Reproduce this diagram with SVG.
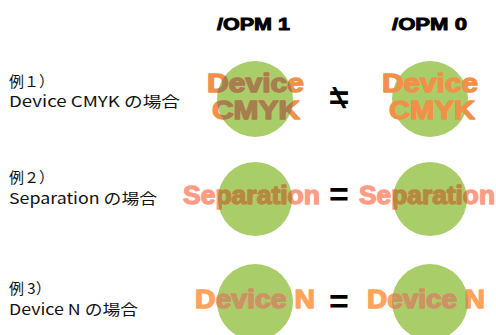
<svg xmlns="http://www.w3.org/2000/svg" width="496" height="335" viewBox="0 0 496 335">
<defs>
<style>
.hdr{font-family:"Liberation Sans",Arial,sans-serif;font-weight:bold;font-size:17px;fill:#000;stroke:#000;stroke-width:0.9px}
.lbl{font-family:"Noto Sans CJK JP","Liberation Sans",sans-serif;font-size:15px;fill:#111}
.big{font-family:"Liberation Sans",Arial,sans-serif;font-weight:bold;font-size:25px;stroke-width:1.3px;stroke-linejoin:round}
.circ{fill:#A9CD69}
.op{font-family:"Liberation Sans",Arial,sans-serif;font-weight:bold;font-size:34px;fill:#000}
</style>
<clipPath id="c1l"><circle cx="255" cy="99" r="38"/></clipPath>
<clipPath id="c2l"><circle cx="255" cy="199" r="37"/></clipPath>
<clipPath id="c2r"><circle cx="430" cy="199" r="37"/></clipPath>
<clipPath id="c3l"><circle cx="255" cy="302" r="38"/></clipPath>
<clipPath id="c3r"><circle cx="430" cy="302" r="38"/></clipPath>
</defs>
<rect width="496" height="335" fill="#fff"/>
<g id="headers">
<text class="hdr" x="217" y="30" textLength="73" lengthAdjust="spacingAndGlyphs">/OPM 1</text>
<text class="hdr" x="392" y="30" textLength="75" lengthAdjust="spacingAndGlyphs">/OPM 0</text>
</g>
<g id="label1">
<text class="lbl" x="9" y="87">例１）</text>
<text class="lbl" x="9" y="107" textLength="171" lengthAdjust="spacingAndGlyphs">Device CMYK の場合</text>
</g>
<g id="label2">
<text class="lbl" x="9" y="183">例２）</text>
<text class="lbl" x="9" y="204" textLength="148" lengthAdjust="spacingAndGlyphs">Separation の場合</text>
</g>
<g id="label3">
<text class="lbl" x="9" y="294">例 3）</text>
<text class="lbl" x="9" y="315" textLength="129" lengthAdjust="spacingAndGlyphs">Device N の場合</text>
</g>
<g id="ex1-opm1">
<circle class="circ" cx="255" cy="99" r="38"/>
<g fill="#F0914A" stroke="#F0914A">
<text class="big" x="207" y="92" textLength="97" lengthAdjust="spacingAndGlyphs">Device</text>
<text class="big" x="212" y="119" textLength="88" lengthAdjust="spacingAndGlyphs">CMYK</text>
</g>
<g fill="#A67F50" stroke="#A67F50" clip-path="url(#c1l)">
<text class="big" x="207" y="92" textLength="97" lengthAdjust="spacingAndGlyphs">Device</text>
<text class="big" x="212" y="119" textLength="88" lengthAdjust="spacingAndGlyphs">CMYK</text>
</g>
</g>
<g id="ex1-opm0">
<circle class="circ" cx="430" cy="99" r="38"/>
<g fill="#F0914A" stroke="#F0914A">
<text class="big" x="382" y="92" textLength="96" lengthAdjust="spacingAndGlyphs">Device</text>
<text class="big" x="389" y="119" textLength="86" lengthAdjust="spacingAndGlyphs">CMYK</text>
</g>
</g>
<g id="ex2-opm1">
<circle class="circ" cx="255" cy="199" r="37"/>
<text class="big" x="183" y="204" fill="#FF9C84" stroke="#FF9C84" textLength="137" lengthAdjust="spacingAndGlyphs">Separation</text>
<text class="big" x="183" y="204" fill="#B38A3E" stroke="#B38A3E" clip-path="url(#c2l)" textLength="137" lengthAdjust="spacingAndGlyphs">Separation</text>
</g>
<g id="ex2-opm0">
<circle class="circ" cx="430" cy="199" r="37"/>
<text class="big" x="359" y="204" fill="#FF9C84" stroke="#FF9C84" textLength="136" lengthAdjust="spacingAndGlyphs">Separation</text>
<text class="big" x="359" y="204" fill="#B38A3E" stroke="#B38A3E" clip-path="url(#c2r)" textLength="136" lengthAdjust="spacingAndGlyphs">Separation</text>
</g>
<g id="ex3-opm1">
<circle class="circ" cx="255" cy="302" r="38"/>
<text class="big" x="195" y="308" fill="#FFA458" stroke="#FFA458" textLength="120" lengthAdjust="spacingAndGlyphs">Device N</text>
<text class="big" x="195" y="308" fill="#C89466" stroke="#C89466" clip-path="url(#c3l)" textLength="120" lengthAdjust="spacingAndGlyphs">Device N</text>
</g>
<g id="ex3-opm0">
<circle class="circ" cx="430" cy="302" r="38"/>
<text class="big" x="367" y="308" fill="#FFA458" stroke="#FFA458" textLength="118" lengthAdjust="spacingAndGlyphs">Device N</text>
<text class="big" x="367" y="308" fill="#C89466" stroke="#C89466" clip-path="url(#c3r)" textLength="118" lengthAdjust="spacingAndGlyphs">Device N</text>
</g>
<g id="connectors">
<text class="op" x="0" y="109" text-anchor="middle" transform="translate(339,0) scale(-1,1)" font-weight="normal">≠</text>
<text class="op" x="339" y="206" text-anchor="middle">=</text>
<text class="op" x="339" y="313" text-anchor="middle">=</text>
</g>
</svg>
